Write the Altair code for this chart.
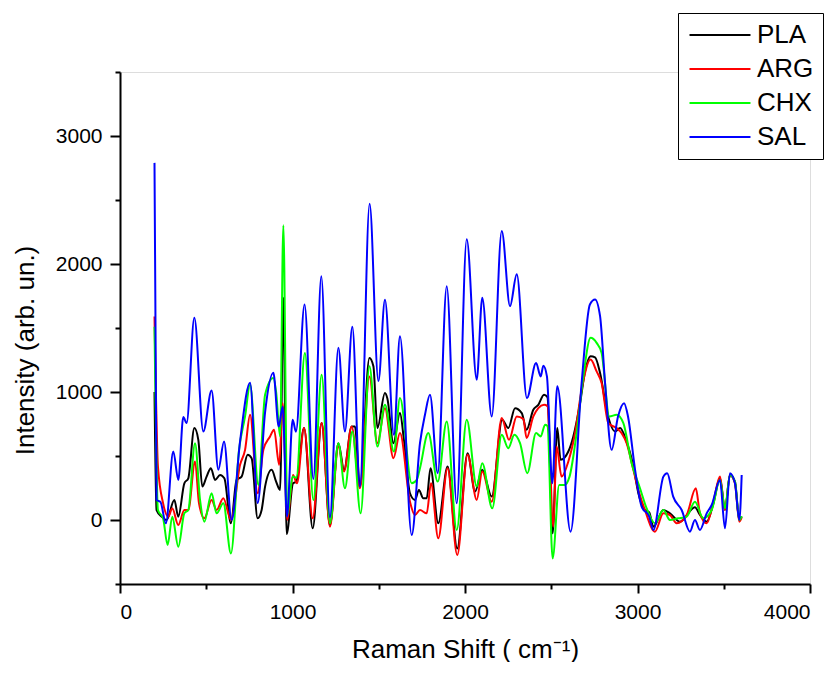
import altair as alt
import pandas as pd

series_names = ["PLA", "ARG", "CHX", "SAL"]
series_colors = ["#000000", "#FF0000", "#00FF00", "#0000FF"]

x_major = [0, 1000, 2000, 3000, 4000]
x_minor = [500, 1500, 2500, 3500]
y_major = [0, 1000, 2000, 3000]
y_minor = [-500, 500, 1500, 2500, 3500]

pla_x = [200, 212, 242, 270, 315, 338, 373, 396, 431, 454, 477, 502, 527, 551, 580, 605, 643, 676, 705, 740,
         763, 798, 821, 841, 879, 905, 928, 947, 966, 1003, 1022, 1067, 1117, 1169, 1217, 1266, 1299, 1343, 1362, 1391,
         1446, 1469, 1492, 1536, 1550, 1585, 1623, 1646, 1681, 1710, 1733, 1758, 1778, 1800, 1845, 1899, 1955, 2015, 2058, 2100,
         2155, 2216, 2251, 2290, 2329, 2357, 2396, 2425, 2458, 2478, 2508, 2535, 2554, 2599, 2628, 2667, 2696, 2728, 2754, 2783,
         2825, 2870, 2899, 2933, 2976, 3005, 3043, 3068, 3092, 3150, 3188, 3246, 3333, 3362, 3401, 3440, 3478, 3507, 3536, 3565,
         3590, 3604]
pla_y = [1000, 78, 26, 0, 157, 26, 287, 326, 718, 626, 261, 339, 405, 313, 352, 326, -26, 313, 339, 509,
         483, 13, 78, 261, 392, 300, 235, 1736, -110, 287, 300, 718, -65, 757, -39, 600, 392, 731, 731, 261,
         1266, 1201, 718, 992, 950, 600, 835, 626, 209, 157, 235, 170, 170, 405, -26, 418, -222, 522, 222, 392,
         183, 783, 718, 874, 835, 705, 861, 900, 979, 960, -104, 718, 470, 535, 653, 913, 1161, 1279, 1270, 1148,
         835, 692, 718, 626, 418, 209, 78, 60, -52, 78, 52, -13, 100, 40, -13, 130, 326, 78, 352, 300,
         0, 26]

arg_x = [200, 220, 250, 280, 303, 338, 373, 396, 435, 458, 489, 531, 560, 599, 643, 696, 725, 754, 798, 831,
         870, 893, 923, 943, 970, 1003, 1026, 1067, 1117, 1169, 1217, 1266, 1299, 1343, 1391, 1446, 1492, 1536, 1585, 1623,
         1681, 1710, 1739, 1778, 1803, 1845, 1899, 1955, 2015, 2068, 2100, 2155, 2213, 2255, 2300, 2338, 2357, 2396, 2425, 2458,
         2478, 2512, 2531, 2560, 2599, 2638, 2676, 2728, 2763, 2792, 2831, 2879, 2908, 2937, 2976, 3005, 3043, 3101, 3150, 3188,
         3227, 3285, 3338, 3362, 3401, 3440, 3478, 3507, 3536, 3565, 3590, 3604]
arg_y = [1590, 418, 130, 26, 91, -39, 78, 78, 457, 130, 13, 157, 78, 170, 0, 431, 548, 822, 209, 548,
         653, 705, 431, 913, 0, 352, 287, 718, 13, 757, -52, 574, 379, 731, 248, 1122, 600, 874, 483, 679,
         143, 39, 78, 52, 287, -143, 405, -274, 509, 157, 379, 143, 796, 626, 809, 790, 640, 809, 874, 900,
         890, -52, 574, 339, 457, 679, 1018, 1253, 1161, 1070, 757, 718, 679, 600, 392, 235, 78, -91, 52, 39,
         -26, 39, 248, 52, -26, 143, 339, 78, 352, 287, -13, 20]

chx_x = [200, 220, 250, 276, 303, 338, 373, 396, 435, 464, 489, 531, 560, 599, 643, 690, 725, 754, 802, 841,
         889, 905, 928, 947, 970, 1001, 1022, 1072, 1121, 1169, 1217, 1266, 1304, 1347, 1395, 1446, 1492, 1536, 1588, 1623,
         1691, 1720, 1739, 1787, 1842, 1894, 1952, 2010, 2068, 2100, 2158, 2213, 2251, 2286, 2319, 2361, 2412, 2439, 2464, 2478,
         2508, 2546, 2577, 2606, 2647, 2686, 2728, 2763, 2792, 2837, 2879, 2918, 2966, 3014, 3053, 3101, 3150, 3188, 3236, 3285,
         3333, 3381, 3430, 3478, 3507, 3536, 3565, 3590, 3604]
chx_y = [1510, 78, 13, -196, 26, -209, 52, 78, 600, 157, -13, 209, 52, 130, -261, 548, 809, 1057, 274, 979,
         1109, 1000, 653, 2302, 39, 339, 330, 1305, 157, 1135, -26, 600, 248, 692, 52, 1201, 574, 900, 535, 953,
         287, 313, 405, 679, 300, 770, -78, 783, 261, 444, 91, 666, 561, 666, 600, 366, 679, 653, 744, 735,
         -300, 274, 274, 339, 679, 1122, 1423, 1384, 1305, 809, 822, 757, 444, 250, 91, -26, 78, 0, 13, 26,
         143, 13, 78, 313, 91, 352, 300, 0, 30]

sal_x = [200, 212, 235, 266, 309, 338, 367, 386, 431, 483, 531, 570, 603, 647, 696, 754, 798, 841, 889, 920,
         943, 968, 1001, 1020, 1070, 1121, 1167, 1217, 1266, 1304, 1347, 1391, 1447, 1498, 1536, 1588, 1623, 1691, 1739, 1768,
         1797, 1842, 1894, 1952, 2010, 2068, 2100, 2155, 2213, 2261, 2300, 2359, 2412, 2439, 2454, 2475, 2506, 2535, 2612, 2676,
         2724, 2754, 2783, 2812, 2850, 2887, 2922, 2945, 2986, 3024, 3068, 3092, 3150, 3172, 3207, 3256, 3304, 3333, 3362, 3401,
         3430, 3478, 3507, 3536, 3565, 3590, 3604]
sal_y = [2790, 157, 140, -26, 535, 313, 805, 757, 1580, 692, 1012, 392, 613, 0, 615, 1072, 132, 840, 1150, 730,
         887, 26, 783, 690, 1684, 320, 1905, 20, 1346, 692, 1510, 261, 2470, 1085, 1720, 666, 1436, -117, 600, 822,
         979, 366, 1827, 130, 2193, 1096, 1736, 809, 2258, 1671, 1919, 953, 1227, 1122, 1206, 1122, 287, 1044, -91, 1070,
         1684, 1723, 1592, 1070, 548, 809, 913, 809, 392, 104, 26, -78, 339, 366, 183, 78, -91, 0, -78, 52,
         117, 313, -65, 366, 287, 0, 352]

rows = []
for name, xs, ys in [("PLA", pla_x, pla_y), ("ARG", arg_x, arg_y),
                     ("CHX", chx_x, chx_y), ("SAL", sal_x, sal_y)]:
    for xv, yv in zip(xs, ys):
        rows.append({"series": name, "shift": xv, "intensity": yv})
df = pd.DataFrame(rows)

FONT = "Liberation Sans"
x_scale = alt.Scale(domain=[0, 4000], nice=False, zero=False)
y_scale = alt.Scale(domain=[-500, 3500], nice=False, zero=False)

lines = alt.Chart(df).mark_line(strokeWidth=2, interpolate="monotone").encode(
    x=alt.X("shift:Q", scale=x_scale,
            axis=alt.Axis(orient="bottom", values=x_major, format="d", grid=False,
                          tickSize=9, tickWidth=2, tickColor="black",
                          domainWidth=2, domainColor="black",
                          labelFontSize=21, labelFont=FONT, labelColor="black", labelPadding=8,
                          title="Raman Shift ( cm⁻¹)", titleFontSize=26, titleFont=FONT,
                          titleFontWeight="normal", titleColor="black",
                          titleBaseline="alphabetic", titleY=73)),
    y=alt.Y("intensity:Q", scale=y_scale,
            axis=alt.Axis(orient="left", values=y_major, format="d", grid=False,
                          tickSize=10, tickWidth=2, tickColor="black",
                          domainWidth=2, domainColor="black",
                          labelFontSize=21, labelFont=FONT, labelColor="black", labelPadding=8,
                          title="Intensity (arb. un.)", titleFontSize=26, titleFont=FONT,
                          titleFontWeight="normal", titleColor="black",
                          titleBaseline="alphabetic", titleAngle=270, titleAlign="center",
                          titleX=-87, titleY=278)),
    color=alt.Color("series:N", scale=alt.Scale(domain=series_names, range=series_colors),
                    legend=alt.Legend(orient="none", legendX=558, legendY=-59, title=None,
                                      strokeColor="black", fillColor="white", padding=9,
                                      symbolType="M-3,0H3", symbolSize=413, symbolStrokeWidth=2,
                                      symbolOffset=20, labelOffset=24, labelFontSize=26,
                                      labelFont=FONT, labelColor="black", rowPadding=8)),
)

minor = alt.Chart(df).mark_line(opacity=0).encode(
    x=alt.X("shift:Q", scale=x_scale,
            axis=alt.Axis(orient="bottom", values=x_minor, labels=False, domain=False, grid=False,
                          tickSize=5, tickWidth=2, tickColor="black", title=None)),
    y=alt.Y("intensity:Q", scale=y_scale,
            axis=alt.Axis(orient="left", values=y_minor, labels=False, domain=False, grid=False,
                          tickSize=5, tickWidth=2, tickColor="black", title=None)),
)

chart = alt.layer(lines, minor).resolve_axis(x="independent", y="independent").properties(
    width=690, height=512,
    padding={"left": 112, "top": 64, "right": 20, "bottom": 78},
    autosize=alt.AutoSizeParams(type="none"),
).configure_view(stroke=None).configure(font=FONT)

chart.save("out.html", embed_options={"renderer": "svg", "actions": False})
